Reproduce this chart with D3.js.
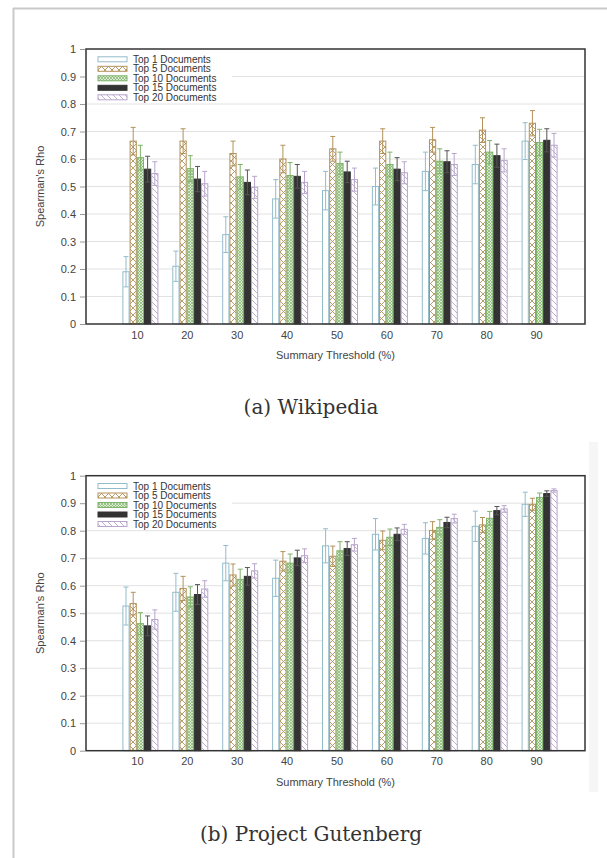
<!DOCTYPE html>
<html>
<head>
<meta charset="utf-8">
<script src="https://cdn.jsdelivr.net/npm/d3@7"></script>
<style>
  body { margin: 0; background: #fff; }
  svg { display: block; }
  text { font-family: "Liberation Sans", Arial, sans-serif; }
</style>
</head>
<body>
<svg id="fig" width="607" height="858"></svg>
<script>
// categories / series
const thresholds = [10, 20, 30, 40, 50, 60, 70, 80, 90];
const seriesNames = ["Top 1 Documents", "Top 5 Documents", "Top 10 Documents", "Top 15 Documents", "Top 20 Documents"];
const yTickValues = [0, 0.1, 0.2, 0.3, 0.4, 0.5, 0.6, 0.7, 0.8, 0.9, 1];

// (a) Wikipedia - one row per series
const wikiMeans = [
  [0.19, 0.21, 0.325, 0.455, 0.485, 0.50, 0.555, 0.58, 0.665],
  [0.665, 0.665, 0.62, 0.60, 0.637, 0.665, 0.67, 0.705, 0.73],
  [0.605, 0.565, 0.535, 0.54, 0.584, 0.58, 0.592, 0.625, 0.66],
  [0.563, 0.527, 0.515, 0.537, 0.553, 0.563, 0.59, 0.612, 0.668],
  [0.547, 0.51, 0.497, 0.515, 0.525, 0.55, 0.58, 0.595, 0.65]
];
const wikiErrs = [
  [0.055, 0.055, 0.065, 0.07, 0.07, 0.067, 0.07, 0.07, 0.067],
  [0.05, 0.045, 0.045, 0.05, 0.045, 0.045, 0.045, 0.045, 0.046],
  [0.045, 0.047, 0.045, 0.047, 0.041, 0.045, 0.045, 0.042, 0.048],
  [0.047, 0.046, 0.045, 0.043, 0.039, 0.042, 0.04, 0.042, 0.042],
  [0.043, 0.045, 0.04, 0.04, 0.042, 0.04, 0.04, 0.042, 0.043]
];

// (b) Project Gutenberg
const gutMeans = [
  [0.526, 0.576, 0.682, 0.627, 0.745, 0.787, 0.772, 0.816, 0.896],
  [0.535, 0.59, 0.639, 0.689, 0.707, 0.765, 0.801, 0.821, 0.896],
  [0.462, 0.559, 0.623, 0.682, 0.727, 0.776, 0.812, 0.845, 0.921],
  [0.454, 0.568, 0.634, 0.701, 0.735, 0.787, 0.83, 0.873, 0.935],
  [0.477, 0.588, 0.654, 0.709, 0.749, 0.805, 0.844, 0.879, 0.946]
];
const gutErrs = [
  [0.069, 0.069, 0.064, 0.066, 0.062, 0.057, 0.057, 0.055, 0.044],
  [0.041, 0.044, 0.04, 0.035, 0.037, 0.034, 0.032, 0.027, 0.022],
  [0.04, 0.037, 0.037, 0.033, 0.033, 0.03, 0.028, 0.025, 0.016],
  [0.036, 0.036, 0.032, 0.028, 0.025, 0.023, 0.019, 0.015, 0.01],
  [0.035, 0.03, 0.026, 0.025, 0.023, 0.018, 0.016, 0.012, 0.006]
];

const strokeColors = ["#93bccb", "#b3925a", "#7fb26b", "#333333", "#b9a5cc"];
const fills = ["#ffffff", "url(#pat5)", "url(#pat10)", "#333333", "url(#pat20)"];

const svg = d3.select("#fig");

// page frame (screenshot border)
svg.append("line").attr("x1", 13).attr("x2", 607).attr("y1", 8.5).attr("y2", 8.5)
  .attr("stroke", "#c9c9c9").attr("stroke-width", 2);
svg.append("line").attr("x1", 13.5).attr("x2", 13.5).attr("y1", 8).attr("y2", 858)
  .attr("stroke", "#c9c9c9").attr("stroke-width", 2);
svg.append("rect").attr("x", 589).attr("y", 442).attr("width", 9).attr("height", 350)
  .attr("fill", "#f6f6f6");

// hatch patterns
const defs = svg.append("defs");
const p5 = defs.append("pattern").attr("id", "pat5").attr("patternUnits", "userSpaceOnUse")
  .attr("width", 7).attr("height", 7);
p5.append("rect").attr("width", 7).attr("height", 7).attr("fill", "#fff");
p5.append("path").attr("d", "M0,0L7,7M7,0L0,7").attr("stroke", "#b3925a").attr("stroke-width", 0.9);

const p10 = defs.append("pattern").attr("id", "pat10").attr("patternUnits", "userSpaceOnUse")
  .attr("width", 3).attr("height", 3);
p10.append("rect").attr("width", 3).attr("height", 3).attr("fill", "#dcecd3");
p10.append("path").attr("d", "M0,0L3,3M3,0L0,3").attr("stroke", "#7fb26b").attr("stroke-width", 0.7);

const p20 = defs.append("pattern").attr("id", "pat20").attr("patternUnits", "userSpaceOnUse")
  .attr("width", 6).attr("height", 6);
p20.append("rect").attr("width", 6).attr("height", 6).attr("fill", "#fff");
p20.append("path").attr("d", "M0,0L6,6M-1,5L1,7M5,-1L7,1").attr("stroke", "#b9a5cc").attr("stroke-width", 0.9);

function drawChart(top, means, errs, caption) {
  const left = 86, right = 585, bottom = top + 275;
  const x = d3.scaleLinear().domain([0, 100]).range([left, right]);
  const y = d3.scaleLinear().domain([0, 1]).range([bottom, top]);
  const inner = d3.scaleBand().domain(d3.range(seriesNames.length)).range([-13.5, 22.5]);
  const g = svg.append("g");

  // grid
  g.append("g").selectAll("line").data(yTickValues.slice(1, -1)).join("line")
    .attr("x1", left).attr("x2", right)
    .attr("y1", d => y(d)).attr("y2", d => y(d))
    .attr("stroke", "#e2e2e2").attr("stroke-width", 1);

  // y axis
  const ya = g.append("g").attr("transform", `translate(${left - 1},0)`)
    .call(d3.axisLeft(y).tickValues(yTickValues).tickSize(5).tickPadding(4)
      .tickFormat(d => String(+d.toFixed(1))));
  ya.select(".domain").remove();
  ya.selectAll(".tick line").attr("stroke", "#999");
  ya.selectAll(".tick text").attr("fill", "#444").style("font-size", "11px");

  // x axis labels
  const xa = g.append("g").attr("transform", `translate(0,${bottom})`)
    .call(d3.axisBottom(x).tickValues(thresholds).tickSize(0).tickPadding(7));
  xa.select(".domain").remove();
  xa.selectAll(".tick text").attr("fill", "#444").style("font-size", "11px")
    .attr("dx", 1);

  // bars
  means.forEach((row, s) => {
    const sg = g.append("g");
    sg.selectAll("rect").data(row).join("rect")
      .attr("x", (d, i) => x(thresholds[i]) + inner(s) + 0.5)
      .attr("width", inner.bandwidth() - 1)
      .attr("y", d => y(d))
      .attr("height", d => y(0) - y(d))
      .attr("fill", fills[s])
      .attr("stroke", strokeColors[s]).attr("stroke-width", 1);

    const eg = g.append("g").attr("stroke", s === 3 ? "#555" : strokeColors[s]).attr("stroke-width", 1);
    row.forEach((d, i) => {
      const cx = x(thresholds[i]) + inner(s) + inner.bandwidth() / 2;
      const e = errs[s][i];
      eg.append("line").attr("x1", cx).attr("x2", cx).attr("y1", y(d + e)).attr("y2", y(d - e));
      eg.append("line").attr("x1", cx - 2.5).attr("x2", cx + 2.5).attr("y1", y(d + e)).attr("y2", y(d + e));
      eg.append("line").attr("x1", cx - 2.5).attr("x2", cx + 2.5).attr("y1", y(d - e)).attr("y2", y(d - e));
    });
  });

  // legend
  const lg = g.append("g");
  lg.append("rect").attr("x", left + 1).attr("y", top + 1).attr("width", 145).attr("height", 52)
    .attr("fill", "#fff");
  seriesNames.forEach((name, s) => {
    const ly = top + 10.3 + s * 9.5;
    lg.append("rect").attr("x", 98).attr("y", ly - 2.5).attr("width", 29).attr("height", 5)
      .attr("fill", fills[s]).attr("stroke", strokeColors[s]).attr("stroke-width", 1);
    lg.append("text").attr("x", 133).attr("y", ly).attr("dy", "0.35em")
      .attr("fill", "#333").style("font-size", "10px").text(name);
  });

  // frame
  g.append("rect").attr("x", left).attr("y", top).attr("width", right - left).attr("height", bottom - top)
    .attr("fill", "none").attr("stroke", "#333").attr("stroke-width", 1.5);

  // titles
  g.append("text").attr("x", (left + right) / 2).attr("y", bottom + 35)
    .attr("text-anchor", "middle").attr("fill", "#444").style("font-size", "11px")
    .text("Summary Threshold (%)");
  g.append("text").attr("transform", `translate(40,${(top + bottom) / 2}) rotate(-90)`)
    .attr("text-anchor", "middle").attr("dy", "0.35em").attr("fill", "#444").style("font-size", "11px")
    .text("Spearman's Rho");
  g.append("text").attr("x", 311).attr("y", bottom + 90)
    .attr("text-anchor", "middle").attr("fill", "#333")
    .style("font-family", "'DejaVu Serif', serif").style("font-size", "20px")
    .text(caption);
}

drawChart(49, wikiMeans, wikiErrs, "(a) Wikipedia");
drawChart(475.7, gutMeans, gutErrs, "(b) Project Gutenberg");
</script>
</body>
</html>
